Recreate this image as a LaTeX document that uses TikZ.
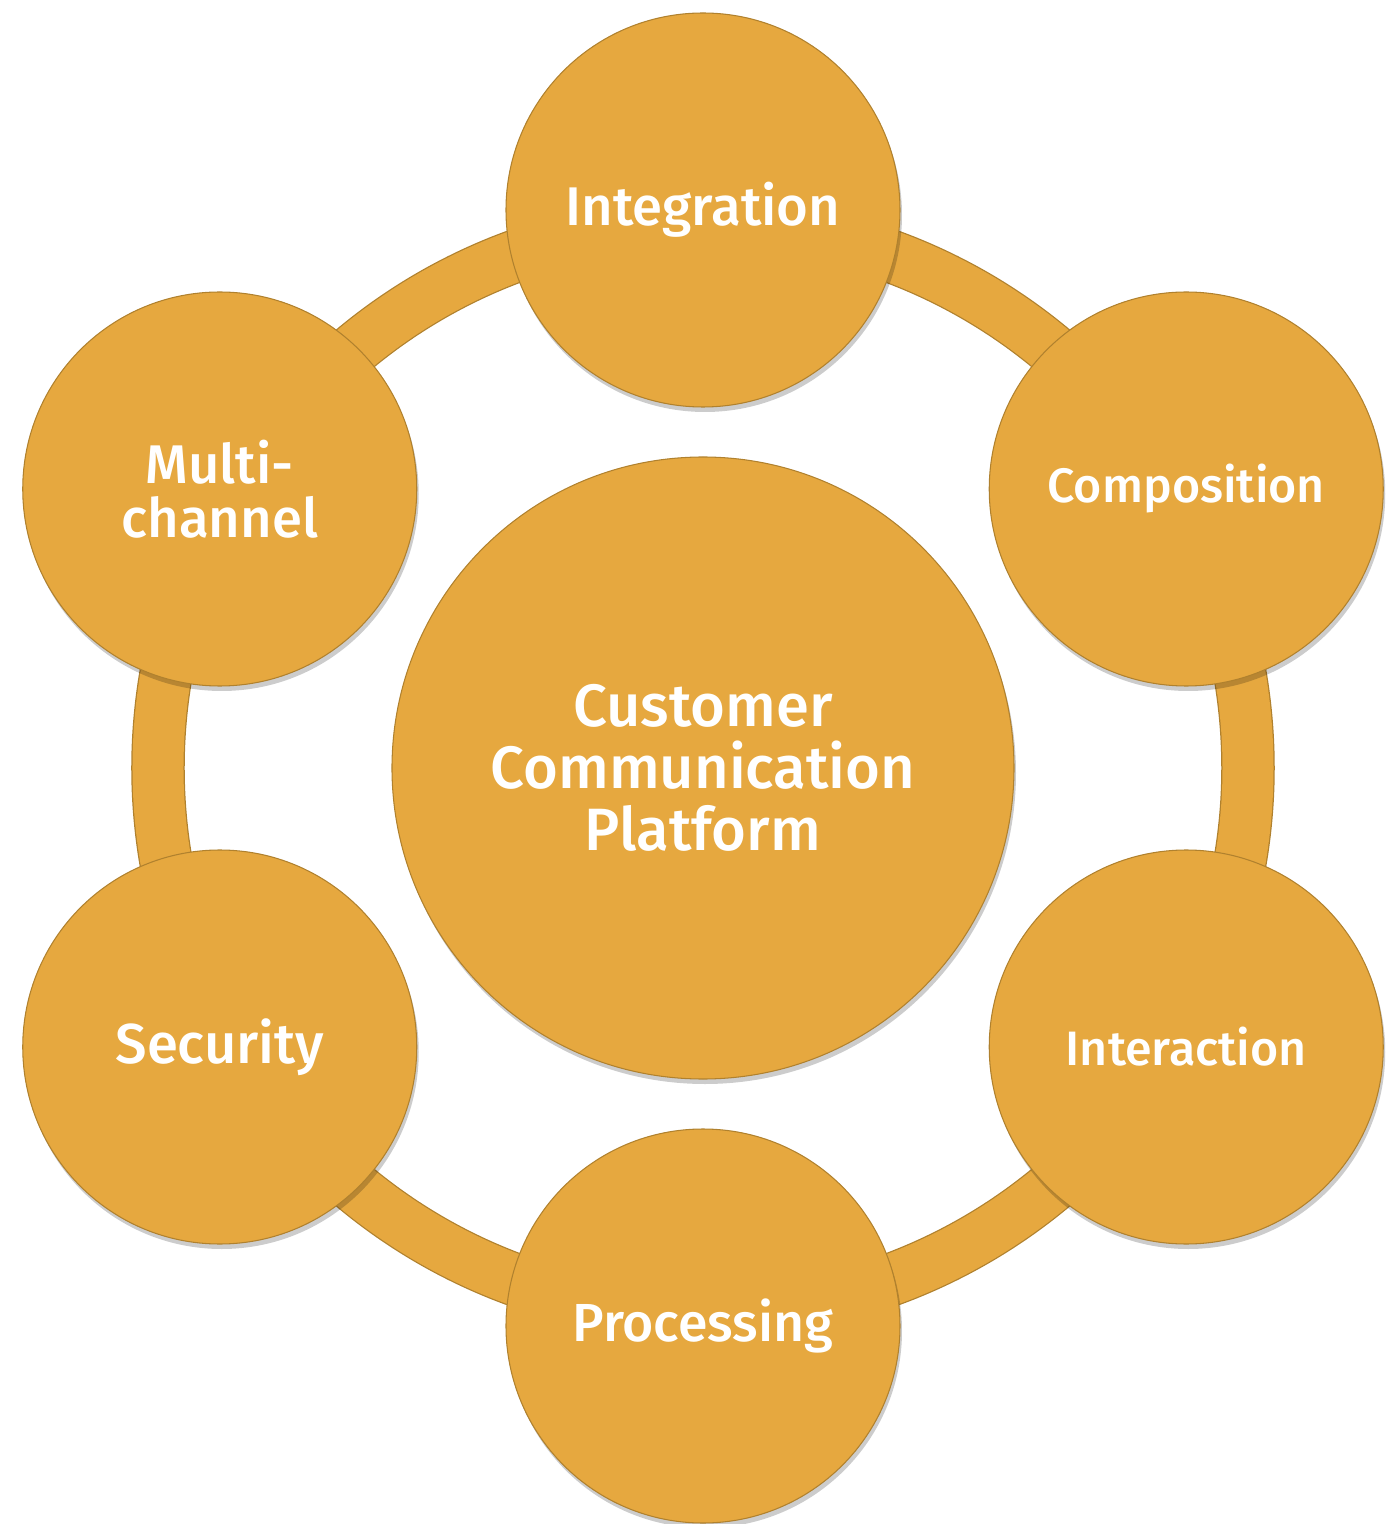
\documentclass[tikz,border=0pt]{standalone}
\usepackage{fontspec}
\setmainfont{Fira Sans}[UprightFont=* Medium]
\usetikzlibrary{shadows}

\definecolor{gold}{HTML}{E6A83F}
\definecolor{goldedge}{HTML}{B0812E}

\tikzset{
  bubble/.style={circle, fill=gold, draw=goldedge, line width=0.6pt,
    minimum size=7.88cm, inner sep=0pt, align=center, text=white,
    font=\fontsize{31}{30.7}\selectfont,
    drop shadow={shadow xshift=0.4mm, shadow yshift=-1mm, opacity=0.2, fill=black}},
  hubble/.style={bubble, minimum size=12.44cm, font=\fontsize{34}{35.3}\selectfont}
}

\begin{document}
\begin{tikzpicture}

	\useasboundingbox (-14.06,-15.12) rectangle (13.66,15.36);

	% make the hub in the middle
	\node[hubble] (hub) at (0,0) {Customer\\Communication\\Platform};

	% make the ring behind the outer bubbles
	\draw[goldedge, line width=1.07cm] (hub.center) circle[radius=10.9cm];
	\draw[gold, line width=1.02cm] (hub.center) circle[radius=10.9cm];

	% make the six outer bubbles
	\node[bubble] (integ)  at (90:11.16)  {Integration};
	\node[bubble, font=\fontsize{27.5}{30}\selectfont] (compo) at (30:11.16) {Composition};
	\node[bubble, font=\fontsize{27.5}{30}\selectfont] (inter) at (-30:11.16) {Interaction};
	\node[bubble, font=\fontsize{30.5}{30}\selectfont] (proc)  at (-90:11.16) {Processing};
	\node[bubble, font=\fontsize{32}{30}\selectfont] (secur) at (-150:11.16) {Security};
	\node[bubble] (multi)  at (150:11.16) {Multi-\\channel};

\end{tikzpicture}
\end{document}
